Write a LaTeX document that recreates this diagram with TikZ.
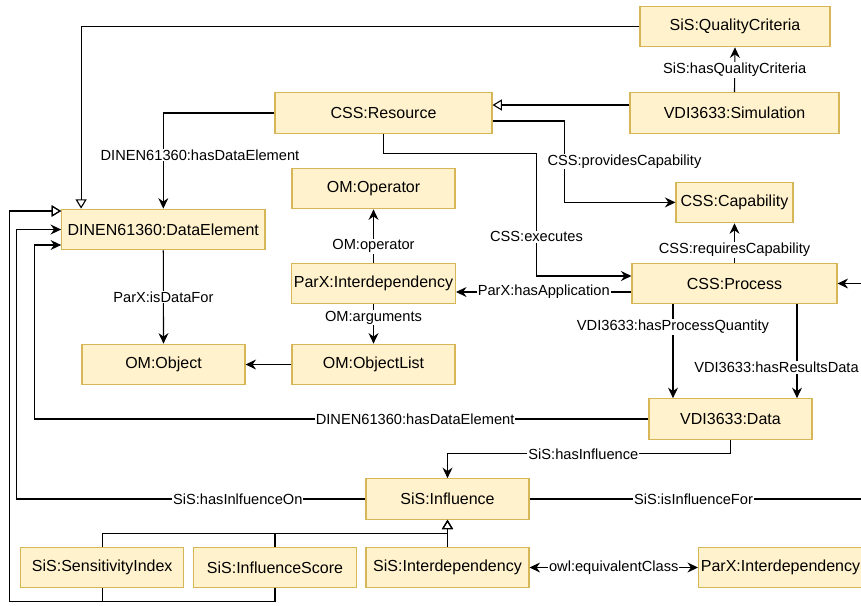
\documentclass[tikz,border=0pt]{standalone}
\usepackage{fontspec}
\setmainfont{Liberation Sans}
\usepackage{tikz}
\usetikzlibrary{arrows.meta, calc, positioning}
\definecolor{boxfill}{HTML}{FFF2CC}
\definecolor{boxline}{HTML}{D6B656}

\tikzset{
	cls/.style={draw=boxline, fill=boxfill, line width=0.9pt, minimum height=1.22cm, minimum width=4.89cm, inner sep=2pt, font=\fontsize{13.66}{16}\selectfont},
	lbl/.style={fill=white, inner sep=0.8pt, font=\fontsize{12.5}{14}\selectfont},
	gen/.style={-{Triangle[open, length=8pt, width=9.5pt]}}
}

\begin{document}
\begin{tikzpicture}[x=0.03cm, y=-0.03cm, line width=0.95pt, >={Stealth[length=9pt, width=8.5pt, inset=3pt]}]
		\useasboundingbox (0,0) rectangle (861,605);
		\clip (0,0) rectangle (861,605);

		\node[cls, minimum width=5.7cm] (qual) at (735,26.5) {SiS:QualityCriteria};
		\node[cls, minimum width=6.27cm] (sim) at (734.5,113) {VDI3633:Simulation};
		\node[cls, minimum width=6.51cm] (res) at (383.5,113) {CSS:Resource};
		\node[cls] (oper) at (373.5,188.5) {OM:Operator};
		\node[cls, minimum width=3.51cm] (capa) at (734.5,202.4) {CSS:Capability};
		\node[cls, minimum width=6.1cm] (dataelem) at (163.3,229.5) {DINEN61360:DataElement};
		\node[cls] (pxint) at (373.5,283.5) {ParX:Interdependency};
		\node[cls, minimum width=6.15cm] (proc) at (734.5,283.5) {CSS:Process};
		\node[cls] (obj) at (163.5,364.5) {OM:Object};
		\node[cls] (objlist) at (373.5,364.5) {OM:ObjectList};
		\node[cls] (vdata) at (730.5,419) {VDI3633:Data};
		\node[cls] (infl) at (447.5,499) {SiS:Influence};
		\node[cls] (sens) at (102.2,567.5) {SiS:SensitivityIndex};
		\node[cls] (score) at (275,567.5) {SiS:InfluenceScore};
		\node[cls] (sisint) at (447.5,567.5) {SiS:Interdependency};
		\node[cls] (parxint) at (780.5,567.5) {ParX:Interdependency};

		\draw[gen] (qual.west) -| ([xshift=0.6cm]dataelem.north west);
		\draw[->] (sim.north) -- node[lbl]{SiS:hasQualityCriteria} (qual.south);
		\draw[gen] ([yshift=0.24cm]sim.west) -- ([yshift=0.24cm]res.east);

		\draw[->] (res.west) -| node[lbl, pos=0.72, xshift=1.1cm]{DINEN61360:hasDataElement} (dataelem.north);
		\draw[->] ([yshift=-0.24cm]res.east) -| node[lbl, pos=0.75, xshift=1.8cm]{CSS:providesCapability} ([xshift=-3.33cm]capa.west) -- (capa.west);
		\draw[->] (res.south) -- ++(0,-0.6cm) -| node[lbl, pos=0.84]{CSS:executes} ([xshift=-2.85cm, yshift=0.225cm]proc.west) -- ([yshift=0.225cm]proc.west);

		\draw[->] (proc.north) -- node[lbl, pos=0.32]{CSS:requiresCapability} (capa.south);
		\draw[->] ([yshift=-0.255cm]proc.west) -- node[lbl]{ParX:hasApplication} ([yshift=-0.255cm]pxint.east);
		\draw[->] (pxint.north) -- node[lbl, pos=0.31]{OM:operator} (oper.south);
		\draw[->] (pxint.south) -- node[lbl, pos=0.34]{OM:arguments} (objlist.north);
		\draw[->] (objlist.west) -- (obj.east);
		\draw[->] (dataelem.south) -- node[lbl]{ParX:isDataFor} (obj.north);

		\draw[->] ([xshift=-1.845cm]proc.south) -- node[lbl, pos=0.24]{VDI3633:hasProcessQuantity} ([xshift=-1.845cm]proc.south |- vdata.north);
		\draw[->] ([xshift=1.875cm]proc.south) -- node[lbl, pos=0.67, xshift=-0.615cm]{VDI3633:hasResultsData} ([xshift=1.875cm]proc.south |- vdata.north);
		\draw[->] (vdata.west) -| node[lbl, pos=0.19]{DINEN61360:hasDataElement} ([xshift=-0.8cm, yshift=-0.465cm]dataelem.west) -- ([yshift=-0.465cm]dataelem.west);

		\draw[->] (vdata.south) -- ++(0,-0.42cm) -| node[lbl, pos=0.26]{SiS:hasInfluence} (infl.north);
		\draw[->] (infl.west) -| node[lbl, pos=0.183]{SiS:hasInlfuenceOn} ([xshift=-1.335cm]dataelem.west) -- (dataelem.west);
		\draw[->] (infl.east) -| node[lbl, pos=0.237]{SiS:isInfluenceFor} ([xshift=1.14cm]proc.east) -- (proc.east);

		\draw[gen] (sisint.north) -- (infl.south);
		\draw[gen] (sens.north) -- ++(0,0.39cm) -| (infl.south);
		\draw[gen] (score.north) -- ++(0,0.39cm) -| (infl.south);
		\draw[gen] (sens.south) -- ++(0,-0.39cm) -| ([xshift=-1.55cm, yshift=0.555cm]dataelem.west) -- ([yshift=0.555cm]dataelem.west);
		\draw[gen] (score.south) -- ++(0,-0.39cm) -| ([xshift=-1.55cm, yshift=0.555cm]dataelem.west) -- ([yshift=0.555cm]dataelem.west);

		\draw[<->] (sisint.east) -- node[lbl]{owl:equivalentClass} (parxint.west);
	\end{tikzpicture}
\end{document}
